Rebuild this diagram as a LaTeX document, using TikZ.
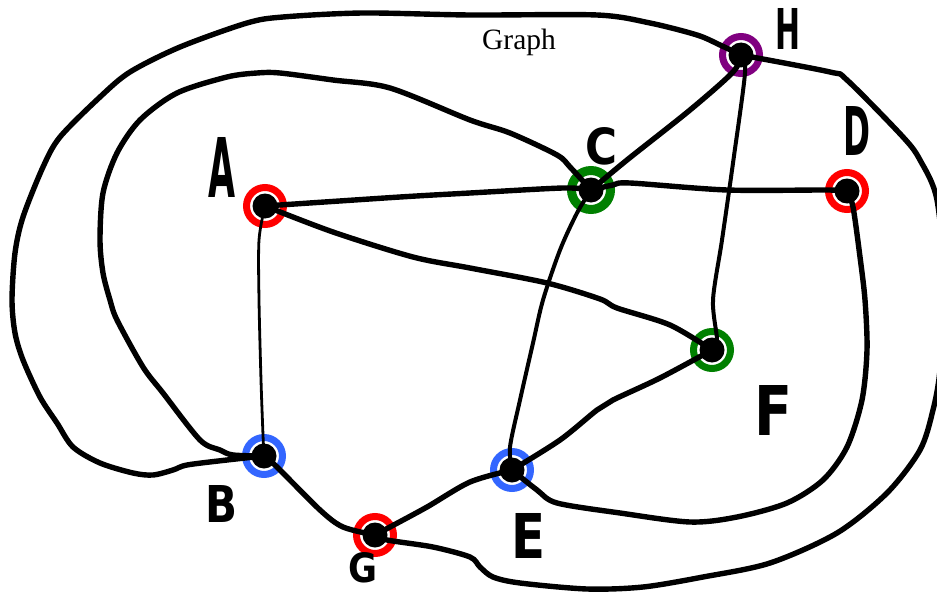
\documentclass[tikz,border=0pt]{standalone}
\usepackage{fontspec}
\setmainfont{Liberation Serif}
\newfontfamily\hand{DejaVu Sans}
\definecolor{ringred}{RGB}{255,0,0}
\definecolor{ringblue}{RGB}{51,102,255}
\definecolor{ringgreen}{RGB}{0,128,0}
\definecolor{ringpurple}{RGB}{128,0,128}
\tikzset{
  vtx/.style={circle, draw=#1, line width=7pt, minimum size=37pt, inner sep=0pt,
    path picture={\fill[black] (path picture bounding box.center) circle[radius=12.5pt];}},
  edge/.style={line width=5.4pt, line cap=round, line join=round},
  thinedge/.style={line width=2.8pt, line cap=round},
  midedge/.style={line width=4pt, line cap=round},
  lbl/.style={inner sep=0pt, outer sep=0pt, font=\hand\bfseries},
}
\begin{document}
\begin{tikzpicture}[x=1pt,y=-1pt]
\useasboundingbox (0,0) rectangle (937,594);
\clip (0,0) rectangle (937,594);
% vertices
\node[vtx=ringred] (A) at (265,206) {};
\node[vtx=ringblue] (B) at (264,456) {};
\node[vtx=ringgreen, minimum size=39pt, line width=9pt] (C) at (591,190) {};
\node[vtx=ringred] (D) at (847,191) {};
\node[vtx=ringblue] (E) at (512,470) {};
\node[vtx=ringgreen] (F) at (712,350) {};
\node[vtx=ringred] (G) at (375,535) {};
\node[vtx=ringpurple] (H) at (741,55) {};
% labels
\node[lbl] (lA) at (221.5,167.5) {\resizebox{27pt}{60pt}{A}};
\node[lbl] (lB) at (221,503.5) {\resizebox{32pt}{37pt}{B}};
\node[lbl] (lC) at (601,146.5) {\resizebox{32pt}{37pt}{C}};
\node[lbl] (lD) at (856.5,130.5) {\resizebox{27pt}{49pt}{D}};
\node[lbl] (lE) at (529,535.5) {\resizebox{34pt}{45pt}{E}};
\node[lbl] (lF) at (773,410) {\resizebox{38pt}{50pt}{F}};
\node[lbl] (lG) at (362.5,568) {\resizebox{29pt}{30pt}{G}};
\node[lbl] (lH) at (787.5,28.5) {\resizebox{25pt}{41pt}{H}};
\node[inner sep=0pt, anchor=base] (title) at (519,50) {\fontsize{29.5}{31}\selectfont Graph};
% edges
\draw[edge] plot[smooth] coordinates {(H.center) (720,45) (697,35) (650,23) (597,15) (470,15) (363,13) (283,17) (247,23) (180,47) (130,72) (100,97) (60,137) (43,167) (23,217) (15,253) (12,300) (15,333) (23,360) (40,397) (57,423) (73,447) (100,463) (133,473) (153,475) (173,470) (187,465) (227,460) (B.center)};
\draw[edge] plot[smooth] coordinates {(C.center) (570,167) (557,155) (510,133) (470,120) (390,88) (333,80) (280,73) (257,73) (227,77) (177,93) (140,120) (117,153) (103,193) (100,240) (103,273) (110,300) (117,320) (143,367) (163,393) (200,440) (220,450) (233,455) (B.center)};
\draw[edge] plot[smooth] coordinates {(G.center) (387,540) (433,547) (470,557) (480,567) (493,577) (520,583) (587,589) (643,587) (703,577) (770,563) (837,533) (887,493) (920,450) (933,410) (940,370) (945,290) (937,200) (920,160) (903,137) (847,80) (830,72) (H.center)};
\draw[edge] plot[smooth] coordinates {(E.center) (537,490) (557,503) (620,513) (690,522) (737,517) (787,503) (823,480) (847,447) (862,400) (867,350) (865,300) (860,257) (853,207) (D.center)};
\draw[edge] plot[smooth] coordinates {(A.center) (400,197) (470,193) (563,188) (C.center)};
\draw[edge] plot[smooth] coordinates {(C.center) (613,185) (630,183) (727,190) (827,190) (D.center)};
\draw[thinedge] plot[smooth] coordinates {(A.center) (259,240) (259,300) (261,380) (263,435) (B.center)};
\draw[edge] plot[smooth] coordinates {(A.center) (333,232) (413,257) (470,268) (547,283) (600,299) (617,308) (670,325) (F.center)};
\draw[edge] plot[smooth] coordinates {(C.center) (627,160) (690,110) (733,72) (H.center)};
\draw[midedge] plot[smooth] coordinates {(H.center) (745,73) (733,163) (722,240) (713,300) (717,340) (F.center)};
\draw[midedge] plot[smooth] coordinates {(C.center) (577,213) (560,250) (543,300) (533,343) (520,400) (510,447) (E.center)};
\draw[edge] plot[smooth] coordinates {(F.center) (660,378) (613,400) (597,410) (560,440) (E.center)};
\draw[edge] plot[smooth] coordinates {(B.center) (277,467) (320,510) (343,527) (G.center)};
\draw[edge] plot[smooth] coordinates {(G.center) (390,527) (427,507) (470,482) (E.center)};
\end{tikzpicture}
\end{document}
